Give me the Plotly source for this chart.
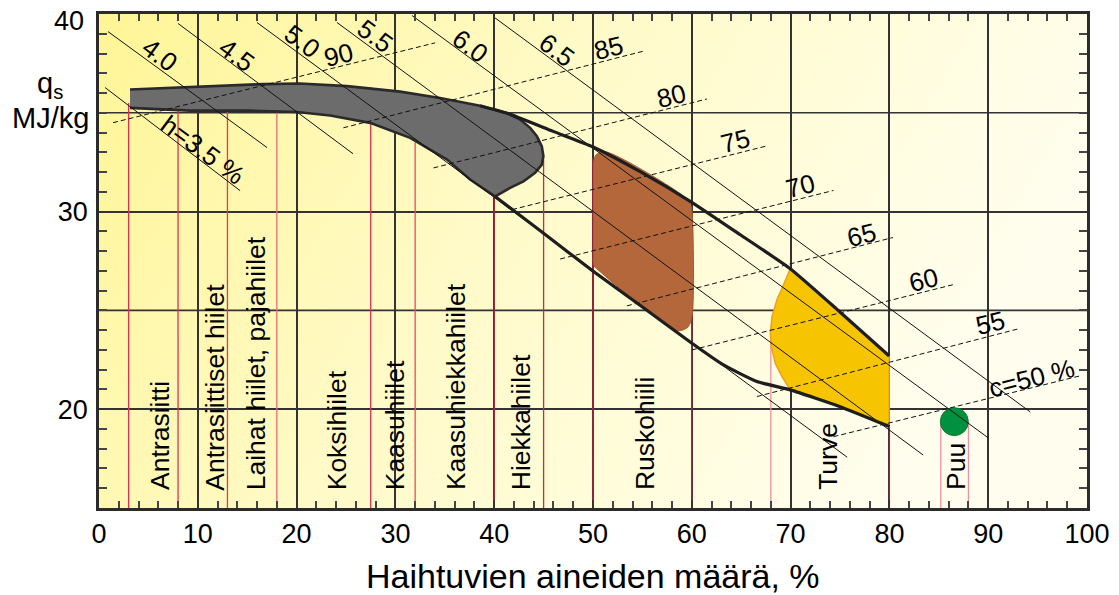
import base64
import plotly.graph_objects as go

# ---- iso-hydrogen lines (solid, h %) -------------------------------------
H_LABELS = ["h=3.5 %", "4.0", "4.5", "5.0", "5.5", "6.0", "6.5"]
H_X0 = [0.61, 0.91, 8.00, 15.99, 24.09, 31.69, 40.09]
H_Y0 = [36.28, 39.11, 39.52, 39.57, 39.57, 39.92, 39.80]
H_X1 = [14.28, 17.01, 25.71, 75.73, 83.42, 90.00, 94.26]
H_Y1 = [31.06, 33.24, 32.93, 17.57, 17.68, 18.55, 19.86]
H_LABEL_X = [10.53, 6.18, 13.94, 20.52, 27.94, 37.56, 46.34]
H_LABEL_Y = [33.14, 37.95, 37.95, 38.62, 38.88, 38.37, 38.20]

# ---- iso-carbon lines (dashed, c %) --------------------------------------
C_LABELS = ["90", "85", "80", "75", "70", "65", "60", "55", "c=50 %"]
C_X0 = [1.42, 24.73, 33.85, 41.81, 46.67, 53.43, 60.01, 66.59, 74.34]
C_Y0 = [34.50, 34.24, 32.21, 30.10, 27.60, 25.23, 23.00, 20.64, 18.61]
C_X1 = [34.02, 55.11, 61.53, 67.73, 74.34, 80.36, 86.67, 93.08, 99.32]
C_Y1 = [38.54, 38.12, 35.70, 33.34, 31.07, 28.69, 26.33, 24.07, 21.69]
C_LABEL_X = [24.23, 51.57, 57.98, 64.39, 70.97, 77.22, 83.43, 90.21, 94.43]
C_LABEL_Y = [37.95, 38.29, 35.84, 33.56, 31.28, 28.83, 26.55, 24.36, 21.57]

# ---- envelope of solid fuels ---------------------------------------------
UPPER_X = [38.57, 41.31, 45.97, 50.02, 54.78, 59.84, 64.90, 69.96, 75.02, 79.98]
UPPER_Y = [35.36, 34.98, 34.06, 33.27, 32.02, 30.52, 28.83, 27.11, 24.91, 22.69]
LOWER_X = [40.09, 45.0, 50.05, 55.0, 60.01, 63.21, 66.59, 69.96, 75.02, 80.01]
LOWER_Y = [30.76, 28.9, 26.97, 25.17, 23.34, 22.24, 21.40, 20.98, 20.13, 19.12]

# ---- fuel areas ------------------------------------------------------------
COAL_X = [3.14, 8.91, 16.50, 20.35, 25.11, 30.47, 34.52, 38.57, 41.31, 42.62,
          43.64, 44.32, 44.82, 44.98, 44.82, 44.14, 42.96, 41.61, 40.09, 37.56,
          35.23, 31.49, 27.44, 23.39, 20.05, 15.29, 9.21, 3.14]
COAL_Y = [36.18, 36.31, 36.45, 36.48, 36.35, 36.07, 35.75, 35.36, 34.98, 34.66,
          34.24, 33.81, 33.30, 32.80, 32.38, 31.96, 31.53, 31.20, 30.77, 31.62,
          32.63, 33.73, 34.49, 34.86, 35.04, 35.11, 35.11, 35.25]
LIGNITE_X = [50.02, 50.32, 51.23, 58.82, 59.84, 60.04, 60.04, 59.63, 58.52,
             50.72, 50.11, 50.02]
LIGNITE_Y = [32.38, 32.88, 33.03, 30.91, 30.40, 29.84, 24.78, 24.17, 23.97,
             26.96, 27.26, 27.66]
PEAT_X = [69.96, 75.02, 79.98, 79.98, 75.02, 69.96, 69.12, 68.44, 68.04, 67.94,
          68.11, 68.61, 69.28, 69.96]
PEAT_Y = [27.11, 24.91, 22.69, 19.12, 20.13, 20.98, 21.65, 22.33, 23.17, 23.85,
          24.69, 25.54, 26.30, 27.11]
WOOD_X = [86.57]
WOOD_Y = [19.37]

# ---- fuel class dividers and names ----------------------------------------
DIV_X = [3, 8, 13, 18, 27.5, 32, 40, 45, 50, 60, 68, 80, 85.2, 88]
DIV_TOP = [35.5, 35.2, 35.1, 35.0, 36.3, 33.5, 30.76, 32.6, 32.7, 30.0, 23.8,
           19.12, 19.37, 19.37]
DIV_COLORS = ["#E0304F", "#E0304F", "#E03C58", "#EC6A78", "#E0304F", "#E5505F",
              "#C02040", "#C8284A", "#C02040", "#B82040", "#F0909C", "#C8103A",
              "#F0909C", "#F0909C"]
FUEL_NAMES = ["Antrasiitti", "Antrasiittiset hiilet", "Laihat hiilet, pajahiilet",
              "Koksihiilet", "Kaasuhiilet", "Kaasuhiekkahiilet", "Hiekkahiilet",
              "Ruskohiili", "Turve", "Puu"]
FUEL_X = [6.1, 11.74, 15.9, 24.1, 29.97, 36.07, 42.72, 55.2, 73.8, 86.67]

X_TICKS = [0, 10, 20, 30, 40, 50, 60, 70, 80, 90, 100]
Y_TICKS = [20, 30]
Y_HALF_GRID = [25, 35]
Y_TOP_LABEL = "40"

FONT = "Liberation Sans, Arial, sans-serif"


def segments(x0s, y0s, x1s, y1s):
    xs, ys = [], []
    for a, b, c, d in zip(x0s, y0s, x1s, y1s):
        xs += [a, c, None]
        ys += [b, d, None]
    return xs, ys


fig = go.Figure()

# intermediate horizontal grid lines (between the labelled values)
gx, gy = segments([0] * len(Y_HALF_GRID), Y_HALF_GRID,
                  [100] * len(Y_HALF_GRID), Y_HALF_GRID)
fig.add_trace(go.Scatter(x=gx, y=gy, mode="lines", line=dict(color="#333", width=1.6),
                         hoverinfo="skip", showlegend=False))

# class dividers (thin red verticals)
for x, top, col in zip(DIV_X, DIV_TOP, DIV_COLORS):
    fig.add_trace(go.Scatter(x=[x, x], y=[15, top], mode="lines",
                             line=dict(color=col, width=1.3),
                             hoverinfo="skip", showlegend=False))

# filled fuel areas
fig.add_trace(go.Scatter(x=COAL_X, y=COAL_Y, mode="lines", fill="toself",
                         fillcolor="#6C6C6C", line=dict(color="#2A2A2A", width=2.6),
                         hoverinfo="skip", showlegend=False))
fig.add_trace(go.Scatter(x=LIGNITE_X, y=LIGNITE_Y, mode="lines", fill="toself",
                         fillcolor="#B4673B", line=dict(color="#A55A35", width=1, shape="spline", smoothing=0.8),
                         hoverinfo="skip", showlegend=False))
fig.add_trace(go.Scatter(x=PEAT_X, y=PEAT_Y, mode="lines", fill="toself",
                         fillcolor="#F6C400", line=dict(color="#EE9A1A", width=1.3),
                         hoverinfo="skip", showlegend=False))
fig.add_trace(go.Scatter(x=WOOD_X, y=WOOD_Y, mode="markers",
                         marker=dict(size=28, color="#00913F", line=dict(color="#0B7A3A", width=1)),
                         hoverinfo="skip", showlegend=False))

# iso-hydrogen and iso-carbon lines
hx, hy = segments(H_X0, H_Y0, H_X1, H_Y1)
fig.add_trace(go.Scatter(x=hx, y=hy, mode="lines", line=dict(color="#111", width=1),
                         hoverinfo="skip", showlegend=False))
cx, cy = segments(C_X0, C_Y0, C_X1, C_Y1)
fig.add_trace(go.Scatter(x=cx, y=cy, mode="lines",
                         line=dict(color="#111", width=1, dash="5px,3px"),
                         hoverinfo="skip", showlegend=False))

# envelope curves
for ex, ey in ((UPPER_X, UPPER_Y), (LOWER_X, LOWER_Y)):
    fig.add_trace(go.Scatter(x=ex, y=ey, mode="lines",
                             line=dict(color="#1E1E1E", width=3.2, shape="spline", smoothing=0.5),
                             hoverinfo="skip", showlegend=False))

annotations = []
for t, x, y in zip(H_LABELS, H_LABEL_X, H_LABEL_Y):
    annotations.append(dict(x=x, y=y, text=t, textangle=36.6, showarrow=False,
                            font=dict(size=26, color="black", family=FONT)))
for t, x, y in zip(C_LABELS, C_LABEL_X, C_LABEL_Y):
    annotations.append(dict(x=x, y=y, text=t, textangle=-14, showarrow=False,
                            font=dict(size=26, color="black", family=FONT)))
for t, x in zip(FUEL_NAMES, FUEL_X):
    annotations.append(dict(x=x, y=15.8, text=t, textangle=-90, showarrow=False,
                            xanchor="center", yanchor="bottom",
                            font=dict(size=26.5, color="black", family=FONT)))
# y-axis heading and top tick, placed in the left margin
annotations.append(dict(x=-0.0496, y=0.856, xref="paper", yref="paper",
                        xanchor="center", yanchor="middle",
                        text="q<sub>s</sub>", showarrow=False,
                        font=dict(size=29, color="black", family=FONT)))
annotations.append(dict(x=-0.0486, y=0.7895, xref="paper", yref="paper",
                        xanchor="center", yanchor="middle",
                        text="MJ/kg", showarrow=False,
                        font=dict(size=29, color="black", family=FONT)))
annotations.append(dict(x=-0.0135, y=0.986, xref="paper", yref="paper",
                        text=Y_TOP_LABEL, showarrow=False,
                        xanchor="right", yanchor="middle",
                        font=dict(size=27, color="black", family=FONT)))
annotations.append(dict(x=50, y=-0.138, xref="x", yref="paper",
                        text="Haihtuvien aineiden määrä, %", showarrow=False,
                        yanchor="middle",
                        font=dict(size=34, color="black", family=FONT)))

# soft yellow background running from the left edge to the right
svg = ('<svg xmlns="http://www.w3.org/2000/svg" width="1000" height="500" '
       'viewBox="0 0 1000 500" preserveAspectRatio="none"><defs>'
       '<linearGradient id="g" x1="0" y1="0" x2="1" y2="0.3">'
       '<stop offset="0" stop-color="#FFF596"/>'
       '<stop offset="0.45" stop-color="#FFFAC6"/>'
       '<stop offset="1" stop-color="#FFFEEE"/>'
       '</linearGradient></defs>'
       '<rect width="1000" height="500" fill="url(#g)"/></svg>')
bg_src = "data:image/svg+xml;base64," + base64.b64encode(svg.encode()).decode()

axis_common = dict(showline=True, linecolor="#2B2B2B", linewidth=2.6, mirror="ticks",
                   ticks="inside", ticklen=8, tickwidth=1.5, tickcolor="#333",
                   showgrid=True, gridcolor="#333", gridwidth=1.6, zeroline=False,
                   automargin=False, ticklabeloverflow="allow",
                   tickfont=dict(size=27, color="black", family=FONT))

fig.update_layout(
    width=1119, height=595,
    margin=dict(l=99, r=32, t=14, b=87),
    paper_bgcolor="white", plot_bgcolor="#FFFBD0",
    showlegend=False, hovermode=False,
    annotations=annotations,
    images=[dict(source=bg_src, xref="x", yref="y", x=0, y=40, sizex=100, sizey=25,
                 sizing="stretch", layer="below", xanchor="left", yanchor="top")],
    xaxis=dict(range=[0, 100], tickvals=X_TICKS,
               minor=dict(dtick=2, tick0=0, ticks="inside", ticklen=7, tickwidth=1.5,
                          tickcolor="#444", showgrid=False),
               **axis_common),
    yaxis=dict(range=[15, 40], tickvals=Y_TICKS, ticklabelstandoff=3,
               minor=dict(dtick=1, tick0=15, ticks="inside", ticklen=8, tickwidth=1.5,
                          tickcolor="#444", showgrid=False),
               **axis_common),
)

fig.write_html("out.html")
